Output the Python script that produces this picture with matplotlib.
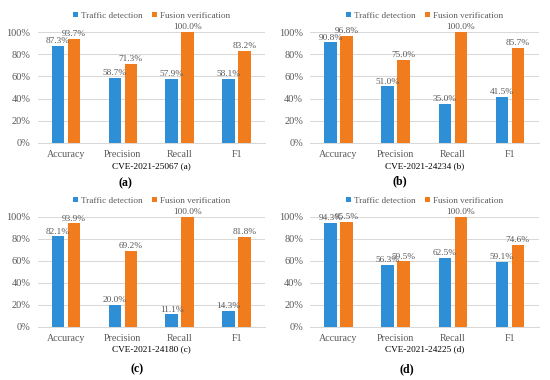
import numpy as np
import matplotlib
matplotlib.use("Agg")
from matplotlib import pyplot as plt

plt.rcParams['font.family'] = ['Liberation Serif', 'DejaVu Serif']

metrics = ["Accuracy", "Precision", "Recall", "F1"]
titles = ["CVE-2021-25067 (a)", "CVE-2021-24234 (b)", "CVE-2021-24180 (c)", "CVE-2021-24225 (d)"]
panel_tags = ["(a)", "(b)", "(c)", "(d)"]

traffic_a = [87.3, 58.7, 57.9, 58.1]
fusion_a = [93.7, 71.3, 100.0, 83.2]
traffic_b = [90.8, 51.0, 35.0, 41.5]
fusion_b = [96.8, 75.0, 100.0, 85.7]
traffic_c = [82.1, 20.0, 11.1, 14.3]
fusion_c = [93.9, 69.2, 100.0, 81.8]
traffic_d = [94.3, 56.3, 62.5, 59.1]
fusion_d = [95.5, 59.5, 100.0, 74.6]

traffic = [traffic_a, traffic_b, traffic_c, traffic_d]
fusion = [fusion_a, fusion_b, fusion_c, fusion_d]

blue = '#2e8ed6'
orange = '#f07c1e'
txt = '#595959'
grid = '#d9d9d9'

W, H = 550, 380
fig = plt.figure(figsize=(5.5, 3.8), dpi=100)

# axes boxes in pixels: left, top, right, bottom
boxes = [(37.5, 32, 265, 143), (310, 32, 538.5, 143),
         (37.5, 216.7, 265, 326.7), (310, 216.7, 538.5, 326.7)]
tag_pos = [(125, 183), (400, 181), (137, 369), (407, 369)]

x = np.arange(len(metrics))
w = 0.22
off = 0.14

for i in range(4):
    l, t, r, b = boxes[i]
    ax = fig.add_axes([l / W, 1 - b / H, (r - l) / W, (b - t) / H])
    b1 = ax.bar(x - off, traffic[i], w, color=blue, label='Traffic detection', zorder=3)
    b2 = ax.bar(x + off, fusion[i], w, color=orange, label='Fusion verification', zorder=3)
    for bars in (b1, b2):
        for rect in bars:
            v = rect.get_height()
            ax.annotate(f"{v:.1f}%", (rect.get_x() + rect.get_width() / 2, v),
                        xytext=(0, 0.5), textcoords='offset points',
                        ha='center', va='bottom', fontsize=6.7, color=txt)
    ax.set_xlim(-0.5, 3.5)
    ax.set_ylim(0, 100)
    ax.set_yticks(np.arange(0, 101, 20))
    ax.set_yticklabels([f"{v}%" for v in range(0, 101, 20)])
    ax.set_xticks(x)
    ax.set_xticklabels(metrics)
    ax.tick_params(length=0, labelsize=7.5, labelcolor=txt, pad=5)
    ax.tick_params(axis='x', labelsize=7.2, pad=5)
    ax.yaxis.grid(True, color=grid, linewidth=0.75, zorder=0)
    for s in ['top', 'right', 'left']:
        ax.spines[s].set_visible(False)
    ax.spines['bottom'].set_color(grid)
    ax.spines['bottom'].set_linewidth(0.75)
    ax.set_xlabel(titles[i], fontsize=6.7, color='black', labelpad=2)
    ax.legend(loc='center', bbox_to_anchor=(0.5, 1.145), ncol=2, frameon=False,
              fontsize=6.6, handlelength=0.55, handleheight=0.55,
              handletextpad=0.35, columnspacing=1.0, labelcolor=txt)
    fig.text(tag_pos[i][0] / W, 1 - tag_pos[i][1] / H, panel_tags[i],
             ha='center', va='center', fontsize=8.5, fontweight='bold')

fig.savefig('out.png', dpi=100)
